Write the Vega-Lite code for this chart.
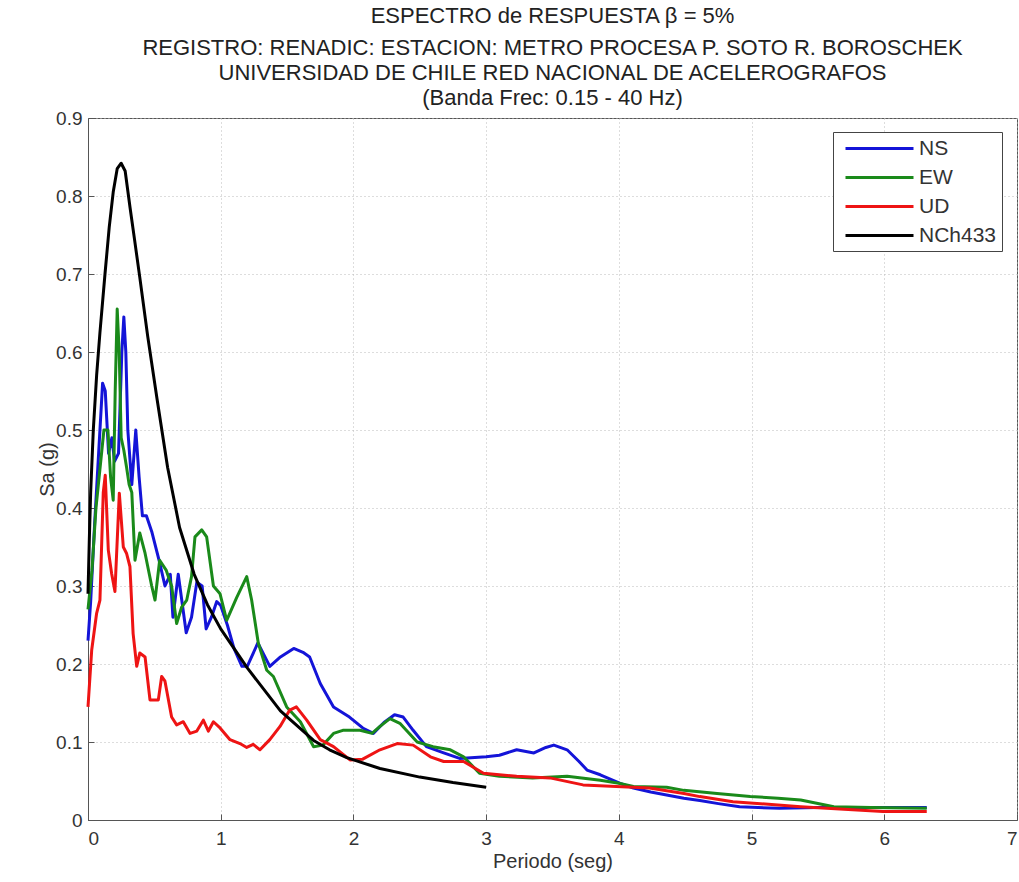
{
  "$schema": "https://vega.github.io/schema/vega-lite/v6.json",
  "width": 929,
  "height": 702,
  "autosize": {"type": "none"},
  "padding": {"left": 88, "top": 118, "right": 2, "bottom": 62},
  "background": "white",
  "title": {
    "text": "ESPECTRO de RESPUESTA β = 5%",
    "subtitle": ["REGISTRO: RENADIC: ESTACION: METRO PROCESA P. SOTO R. BOROSCHEK", "UNIVERSIDAD DE CHILE RED NACIONAL DE ACELEROGRAFOS", "(Banda Frec: 0.15 - 40 Hz)"],
    "font": "Liberation Sans",
    "fontSize": 22,
    "fontWeight": "normal",
    "color": "#222",
    "subtitleFont": "Liberation Sans",
    "subtitleFontSize": 22,
    "subtitleColor": "#222",
    "subtitleLineHeight": 25,
    "subtitlePadding": 10,
    "anchor": "middle",
    "offset": -1
  },
  "config": {
    "view": {"stroke": "#555", "strokeWidth": 1},
    "axis": {
      "labelFont": "Liberation Sans",
      "labelFontSize": 19,
      "labelColor": "#333",
      "titleFont": "Liberation Sans",
      "titleFontSize": 20,
      "titleFontWeight": "normal",
      "titleColor": "#333",
      "domainColor": "#555",
      "tickColor": "#555",
      "gridColor": "#bbb",
      "gridDash": [1, 3],
      "gridWidth": 1
    }
  },
  "data": {
    "values": [
      {"s": "NS", "T": 0.0, "Sa": 0.23},
      {"s": "NS", "T": 0.02, "Sa": 0.28},
      {"s": "NS", "T": 0.05, "Sa": 0.38},
      {"s": "NS", "T": 0.08, "Sa": 0.47},
      {"s": "NS", "T": 0.11, "Sa": 0.56},
      {"s": "NS", "T": 0.13, "Sa": 0.55},
      {"s": "NS", "T": 0.155, "Sa": 0.47},
      {"s": "NS", "T": 0.18, "Sa": 0.49},
      {"s": "NS", "T": 0.2, "Sa": 0.46},
      {"s": "NS", "T": 0.23, "Sa": 0.47},
      {"s": "NS", "T": 0.255, "Sa": 0.6},
      {"s": "NS", "T": 0.27, "Sa": 0.645},
      {"s": "NS", "T": 0.285, "Sa": 0.6},
      {"s": "NS", "T": 0.3, "Sa": 0.5},
      {"s": "NS", "T": 0.33, "Sa": 0.43},
      {"s": "NS", "T": 0.36, "Sa": 0.5},
      {"s": "NS", "T": 0.385, "Sa": 0.44},
      {"s": "NS", "T": 0.41, "Sa": 0.39},
      {"s": "NS", "T": 0.44, "Sa": 0.39},
      {"s": "NS", "T": 0.48, "Sa": 0.37},
      {"s": "NS", "T": 0.54, "Sa": 0.33},
      {"s": "NS", "T": 0.58, "Sa": 0.3},
      {"s": "NS", "T": 0.62, "Sa": 0.315},
      {"s": "NS", "T": 0.64, "Sa": 0.26},
      {"s": "NS", "T": 0.68, "Sa": 0.315},
      {"s": "NS", "T": 0.74, "Sa": 0.24},
      {"s": "NS", "T": 0.78, "Sa": 0.26},
      {"s": "NS", "T": 0.82, "Sa": 0.305},
      {"s": "NS", "T": 0.86, "Sa": 0.3},
      {"s": "NS", "T": 0.89, "Sa": 0.245},
      {"s": "NS", "T": 0.93, "Sa": 0.26},
      {"s": "NS", "T": 0.97, "Sa": 0.28},
      {"s": "NS", "T": 1.0, "Sa": 0.275},
      {"s": "NS", "T": 1.05, "Sa": 0.25},
      {"s": "NS", "T": 1.1, "Sa": 0.22},
      {"s": "NS", "T": 1.16, "Sa": 0.197},
      {"s": "NS", "T": 1.2, "Sa": 0.197},
      {"s": "NS", "T": 1.28, "Sa": 0.227},
      {"s": "NS", "T": 1.37, "Sa": 0.197},
      {"s": "NS", "T": 1.45, "Sa": 0.209},
      {"s": "NS", "T": 1.55, "Sa": 0.22},
      {"s": "NS", "T": 1.62, "Sa": 0.215},
      {"s": "NS", "T": 1.67, "Sa": 0.209},
      {"s": "NS", "T": 1.75, "Sa": 0.175},
      {"s": "NS", "T": 1.85, "Sa": 0.145},
      {"s": "NS", "T": 1.97, "Sa": 0.132},
      {"s": "NS", "T": 2.07, "Sa": 0.118},
      {"s": "NS", "T": 2.15, "Sa": 0.111},
      {"s": "NS", "T": 2.23, "Sa": 0.125},
      {"s": "NS", "T": 2.31, "Sa": 0.135},
      {"s": "NS", "T": 2.375, "Sa": 0.132},
      {"s": "NS", "T": 2.45, "Sa": 0.115},
      {"s": "NS", "T": 2.55, "Sa": 0.094},
      {"s": "NS", "T": 2.68, "Sa": 0.086},
      {"s": "NS", "T": 2.8, "Sa": 0.079},
      {"s": "NS", "T": 3.0, "Sa": 0.081},
      {"s": "NS", "T": 3.1, "Sa": 0.083},
      {"s": "NS", "T": 3.23, "Sa": 0.09},
      {"s": "NS", "T": 3.36, "Sa": 0.086},
      {"s": "NS", "T": 3.45, "Sa": 0.093},
      {"s": "NS", "T": 3.51, "Sa": 0.096},
      {"s": "NS", "T": 3.61, "Sa": 0.09},
      {"s": "NS", "T": 3.7, "Sa": 0.075},
      {"s": "NS", "T": 3.76, "Sa": 0.064},
      {"s": "NS", "T": 3.86, "Sa": 0.058},
      {"s": "NS", "T": 4.01, "Sa": 0.047},
      {"s": "NS", "T": 4.11, "Sa": 0.041},
      {"s": "NS", "T": 4.24, "Sa": 0.036},
      {"s": "NS", "T": 4.36, "Sa": 0.032},
      {"s": "NS", "T": 4.49, "Sa": 0.028},
      {"s": "NS", "T": 4.61, "Sa": 0.025},
      {"s": "NS", "T": 4.75, "Sa": 0.021},
      {"s": "NS", "T": 4.91, "Sa": 0.017},
      {"s": "NS", "T": 5.05, "Sa": 0.016},
      {"s": "NS", "T": 5.21, "Sa": 0.015},
      {"s": "NS", "T": 5.5, "Sa": 0.016},
      {"s": "NS", "T": 5.8, "Sa": 0.016},
      {"s": "NS", "T": 6.1, "Sa": 0.016},
      {"s": "NS", "T": 6.32, "Sa": 0.016},

      {"s": "EW", "T": 0.0, "Sa": 0.27},
      {"s": "EW", "T": 0.03, "Sa": 0.32},
      {"s": "EW", "T": 0.06, "Sa": 0.4},
      {"s": "EW", "T": 0.09, "Sa": 0.45},
      {"s": "EW", "T": 0.12, "Sa": 0.5},
      {"s": "EW", "T": 0.15, "Sa": 0.5},
      {"s": "EW", "T": 0.17, "Sa": 0.44},
      {"s": "EW", "T": 0.19, "Sa": 0.41},
      {"s": "EW", "T": 0.205, "Sa": 0.55},
      {"s": "EW", "T": 0.22, "Sa": 0.655},
      {"s": "EW", "T": 0.235, "Sa": 0.6},
      {"s": "EW", "T": 0.25, "Sa": 0.49},
      {"s": "EW", "T": 0.27, "Sa": 0.474},
      {"s": "EW", "T": 0.29, "Sa": 0.453},
      {"s": "EW", "T": 0.31, "Sa": 0.43},
      {"s": "EW", "T": 0.33, "Sa": 0.42},
      {"s": "EW", "T": 0.354, "Sa": 0.333},
      {"s": "EW", "T": 0.39, "Sa": 0.368},
      {"s": "EW", "T": 0.43, "Sa": 0.342},
      {"s": "EW", "T": 0.48, "Sa": 0.3},
      {"s": "EW", "T": 0.505, "Sa": 0.282},
      {"s": "EW", "T": 0.54, "Sa": 0.333},
      {"s": "EW", "T": 0.59, "Sa": 0.32},
      {"s": "EW", "T": 0.63, "Sa": 0.3},
      {"s": "EW", "T": 0.668, "Sa": 0.252},
      {"s": "EW", "T": 0.706, "Sa": 0.273},
      {"s": "EW", "T": 0.744, "Sa": 0.282},
      {"s": "EW", "T": 0.78, "Sa": 0.312},
      {"s": "EW", "T": 0.806, "Sa": 0.363},
      {"s": "EW", "T": 0.857, "Sa": 0.372},
      {"s": "EW", "T": 0.894, "Sa": 0.363},
      {"s": "EW", "T": 0.945, "Sa": 0.3},
      {"s": "EW", "T": 0.995, "Sa": 0.29},
      {"s": "EW", "T": 1.045, "Sa": 0.256},
      {"s": "EW", "T": 1.12, "Sa": 0.285},
      {"s": "EW", "T": 1.196, "Sa": 0.312},
      {"s": "EW", "T": 1.233, "Sa": 0.282},
      {"s": "EW", "T": 1.283, "Sa": 0.227},
      {"s": "EW", "T": 1.347, "Sa": 0.192},
      {"s": "EW", "T": 1.397, "Sa": 0.184},
      {"s": "EW", "T": 1.497, "Sa": 0.145},
      {"s": "EW", "T": 1.6, "Sa": 0.126},
      {"s": "EW", "T": 1.7, "Sa": 0.094},
      {"s": "EW", "T": 1.77, "Sa": 0.096},
      {"s": "EW", "T": 1.85, "Sa": 0.111},
      {"s": "EW", "T": 1.92, "Sa": 0.115},
      {"s": "EW", "T": 2.05, "Sa": 0.115},
      {"s": "EW", "T": 2.14, "Sa": 0.111},
      {"s": "EW", "T": 2.2, "Sa": 0.12},
      {"s": "EW", "T": 2.275, "Sa": 0.13},
      {"s": "EW", "T": 2.35, "Sa": 0.124},
      {"s": "EW", "T": 2.48, "Sa": 0.1},
      {"s": "EW", "T": 2.6, "Sa": 0.094},
      {"s": "EW", "T": 2.73, "Sa": 0.09},
      {"s": "EW", "T": 2.83, "Sa": 0.081},
      {"s": "EW", "T": 2.95, "Sa": 0.06},
      {"s": "EW", "T": 3.1, "Sa": 0.056},
      {"s": "EW", "T": 3.35, "Sa": 0.054},
      {"s": "EW", "T": 3.61, "Sa": 0.056},
      {"s": "EW", "T": 3.86, "Sa": 0.051},
      {"s": "EW", "T": 4.0, "Sa": 0.047},
      {"s": "EW", "T": 4.11, "Sa": 0.043},
      {"s": "EW", "T": 4.36, "Sa": 0.042},
      {"s": "EW", "T": 4.49, "Sa": 0.038},
      {"s": "EW", "T": 4.74, "Sa": 0.034},
      {"s": "EW", "T": 4.99, "Sa": 0.03},
      {"s": "EW", "T": 5.2, "Sa": 0.028},
      {"s": "EW", "T": 5.37, "Sa": 0.0256},
      {"s": "EW", "T": 5.62, "Sa": 0.017},
      {"s": "EW", "T": 5.9, "Sa": 0.016},
      {"s": "EW", "T": 6.32, "Sa": 0.015},

      {"s": "UD", "T": 0.0, "Sa": 0.145},
      {"s": "UD", "T": 0.028, "Sa": 0.218},
      {"s": "UD", "T": 0.065, "Sa": 0.265},
      {"s": "UD", "T": 0.09, "Sa": 0.282},
      {"s": "UD", "T": 0.115, "Sa": 0.42},
      {"s": "UD", "T": 0.13, "Sa": 0.442},
      {"s": "UD", "T": 0.153, "Sa": 0.346},
      {"s": "UD", "T": 0.178, "Sa": 0.316},
      {"s": "UD", "T": 0.203, "Sa": 0.293},
      {"s": "UD", "T": 0.236, "Sa": 0.419},
      {"s": "UD", "T": 0.266, "Sa": 0.35},
      {"s": "UD", "T": 0.29, "Sa": 0.342},
      {"s": "UD", "T": 0.316, "Sa": 0.325},
      {"s": "UD", "T": 0.34, "Sa": 0.239},
      {"s": "UD", "T": 0.367, "Sa": 0.197},
      {"s": "UD", "T": 0.39, "Sa": 0.214},
      {"s": "UD", "T": 0.43, "Sa": 0.209},
      {"s": "UD", "T": 0.467, "Sa": 0.154},
      {"s": "UD", "T": 0.53, "Sa": 0.154},
      {"s": "UD", "T": 0.555, "Sa": 0.184},
      {"s": "UD", "T": 0.58, "Sa": 0.178},
      {"s": "UD", "T": 0.63, "Sa": 0.132},
      {"s": "UD", "T": 0.668, "Sa": 0.122},
      {"s": "UD", "T": 0.718, "Sa": 0.126},
      {"s": "UD", "T": 0.769, "Sa": 0.111},
      {"s": "UD", "T": 0.82, "Sa": 0.114},
      {"s": "UD", "T": 0.869, "Sa": 0.128},
      {"s": "UD", "T": 0.907, "Sa": 0.114},
      {"s": "UD", "T": 0.945, "Sa": 0.126},
      {"s": "UD", "T": 0.995, "Sa": 0.118},
      {"s": "UD", "T": 1.07, "Sa": 0.103},
      {"s": "UD", "T": 1.145, "Sa": 0.098},
      {"s": "UD", "T": 1.196, "Sa": 0.093},
      {"s": "UD", "T": 1.245, "Sa": 0.097},
      {"s": "UD", "T": 1.296, "Sa": 0.09},
      {"s": "UD", "T": 1.37, "Sa": 0.103},
      {"s": "UD", "T": 1.447, "Sa": 0.12},
      {"s": "UD", "T": 1.52, "Sa": 0.141},
      {"s": "UD", "T": 1.57, "Sa": 0.145},
      {"s": "UD", "T": 1.648, "Sa": 0.128},
      {"s": "UD", "T": 1.75, "Sa": 0.103},
      {"s": "UD", "T": 1.85, "Sa": 0.094},
      {"s": "UD", "T": 1.974, "Sa": 0.077},
      {"s": "UD", "T": 2.07, "Sa": 0.078},
      {"s": "UD", "T": 2.2, "Sa": 0.09},
      {"s": "UD", "T": 2.33, "Sa": 0.098},
      {"s": "UD", "T": 2.45, "Sa": 0.096},
      {"s": "UD", "T": 2.58, "Sa": 0.081},
      {"s": "UD", "T": 2.68, "Sa": 0.075},
      {"s": "UD", "T": 2.83, "Sa": 0.075},
      {"s": "UD", "T": 2.98, "Sa": 0.06},
      {"s": "UD", "T": 3.23, "Sa": 0.056},
      {"s": "UD", "T": 3.48, "Sa": 0.054},
      {"s": "UD", "T": 3.73, "Sa": 0.045},
      {"s": "UD", "T": 3.98, "Sa": 0.043},
      {"s": "UD", "T": 4.23, "Sa": 0.041},
      {"s": "UD", "T": 4.49, "Sa": 0.034},
      {"s": "UD", "T": 4.61, "Sa": 0.03},
      {"s": "UD", "T": 4.86, "Sa": 0.0235},
      {"s": "UD", "T": 5.37, "Sa": 0.017},
      {"s": "UD", "T": 5.99, "Sa": 0.011},
      {"s": "UD", "T": 6.32, "Sa": 0.011},

      {"s": "NCh433", "T": 0.0, "Sa": 0.29},
      {"s": "NCh433", "T": 0.01, "Sa": 0.36},
      {"s": "NCh433", "T": 0.02, "Sa": 0.42},
      {"s": "NCh433", "T": 0.04, "Sa": 0.5},
      {"s": "NCh433", "T": 0.065, "Sa": 0.57},
      {"s": "NCh433", "T": 0.09, "Sa": 0.625},
      {"s": "NCh433", "T": 0.128, "Sa": 0.7},
      {"s": "NCh433", "T": 0.16, "Sa": 0.76},
      {"s": "NCh433", "T": 0.19, "Sa": 0.805},
      {"s": "NCh433", "T": 0.22, "Sa": 0.835},
      {"s": "NCh433", "T": 0.25, "Sa": 0.842},
      {"s": "NCh433", "T": 0.28, "Sa": 0.832},
      {"s": "NCh433", "T": 0.317, "Sa": 0.785},
      {"s": "NCh433", "T": 0.35, "Sa": 0.745},
      {"s": "NCh433", "T": 0.39, "Sa": 0.696},
      {"s": "NCh433", "T": 0.45, "Sa": 0.62},
      {"s": "NCh433", "T": 0.52, "Sa": 0.54},
      {"s": "NCh433", "T": 0.6, "Sa": 0.452},
      {"s": "NCh433", "T": 0.69, "Sa": 0.375},
      {"s": "NCh433", "T": 0.8, "Sa": 0.315},
      {"s": "NCh433", "T": 0.9, "Sa": 0.276},
      {"s": "NCh433", "T": 1.0, "Sa": 0.245},
      {"s": "NCh433", "T": 1.2, "Sa": 0.195},
      {"s": "NCh433", "T": 1.45, "Sa": 0.14},
      {"s": "NCh433", "T": 1.7, "Sa": 0.102},
      {"s": "NCh433", "T": 1.82, "Sa": 0.09},
      {"s": "NCh433", "T": 1.95, "Sa": 0.08},
      {"s": "NCh433", "T": 2.2, "Sa": 0.066},
      {"s": "NCh433", "T": 2.5, "Sa": 0.055},
      {"s": "NCh433", "T": 2.75, "Sa": 0.048},
      {"s": "NCh433", "T": 3.0, "Sa": 0.042}
    ]
  },
  "encoding": {
    "x": {
      "field": "T", "type": "quantitative",
      "scale": {"domain": [0, 7], "nice": false, "zero": false},
      "axis": {"title": "Periodo (seg)", "values": [0, 1, 2, 3, 4, 5, 6, 7], "grid": true, "tickSize": -6, "labelPadding": 15, "titlePadding": 3}
    },
    "y": {
      "field": "Sa", "type": "quantitative",
      "scale": {"domain": [0, 0.9], "nice": false},
      "axis": {"title": "Sa (g)", "values": [0, 0.1, 0.2, 0.3, 0.4, 0.5, 0.6, 0.7, 0.8, 0.9], "format": ".1~f", "grid": true, "tickSize": -6, "labelPadding": 12, "titlePadding": -2}
    },
    "color": {
      "field": "s", "type": "nominal",
      "scale": {"domain": ["NS", "EW", "UD", "NCh433"], "range": ["#1414d8", "#1a8a1a", "#ee1414", "#000000"]},
      "legend": {
        "title": null,
        "orient": "none",
        "legendX": 745,
        "legendY": 14,
        "symbolType": "M-3.4,0H3.4",
        "symbolSize": 400,
        "symbolStrokeWidth": 3,
        "symbolOffset": 30,
        "labelFont": "Liberation Sans",
        "labelFontSize": 21,
        "labelColor": "#333",
        "labelOffset": 28,
        "rowPadding": 7,
        "padding": 5,
        "strokeColor": "#444",
        "fillColor": "white"
      }
    }
  },
  "layer": [
    {"transform": [{"filter": "datum.s === 'NS'"}], "mark": {"type": "line", "strokeWidth": 3, "strokeJoin": "round"}},
    {"transform": [{"filter": "datum.s === 'EW'"}], "mark": {"type": "line", "strokeWidth": 3, "strokeJoin": "round"}},
    {"transform": [{"filter": "datum.s === 'UD'"}], "mark": {"type": "line", "strokeWidth": 3, "strokeJoin": "round"}},
    {"transform": [{"filter": "datum.s === 'NCh433'"}], "mark": {"type": "line", "strokeWidth": 3, "strokeJoin": "round"}}
  ]
}
